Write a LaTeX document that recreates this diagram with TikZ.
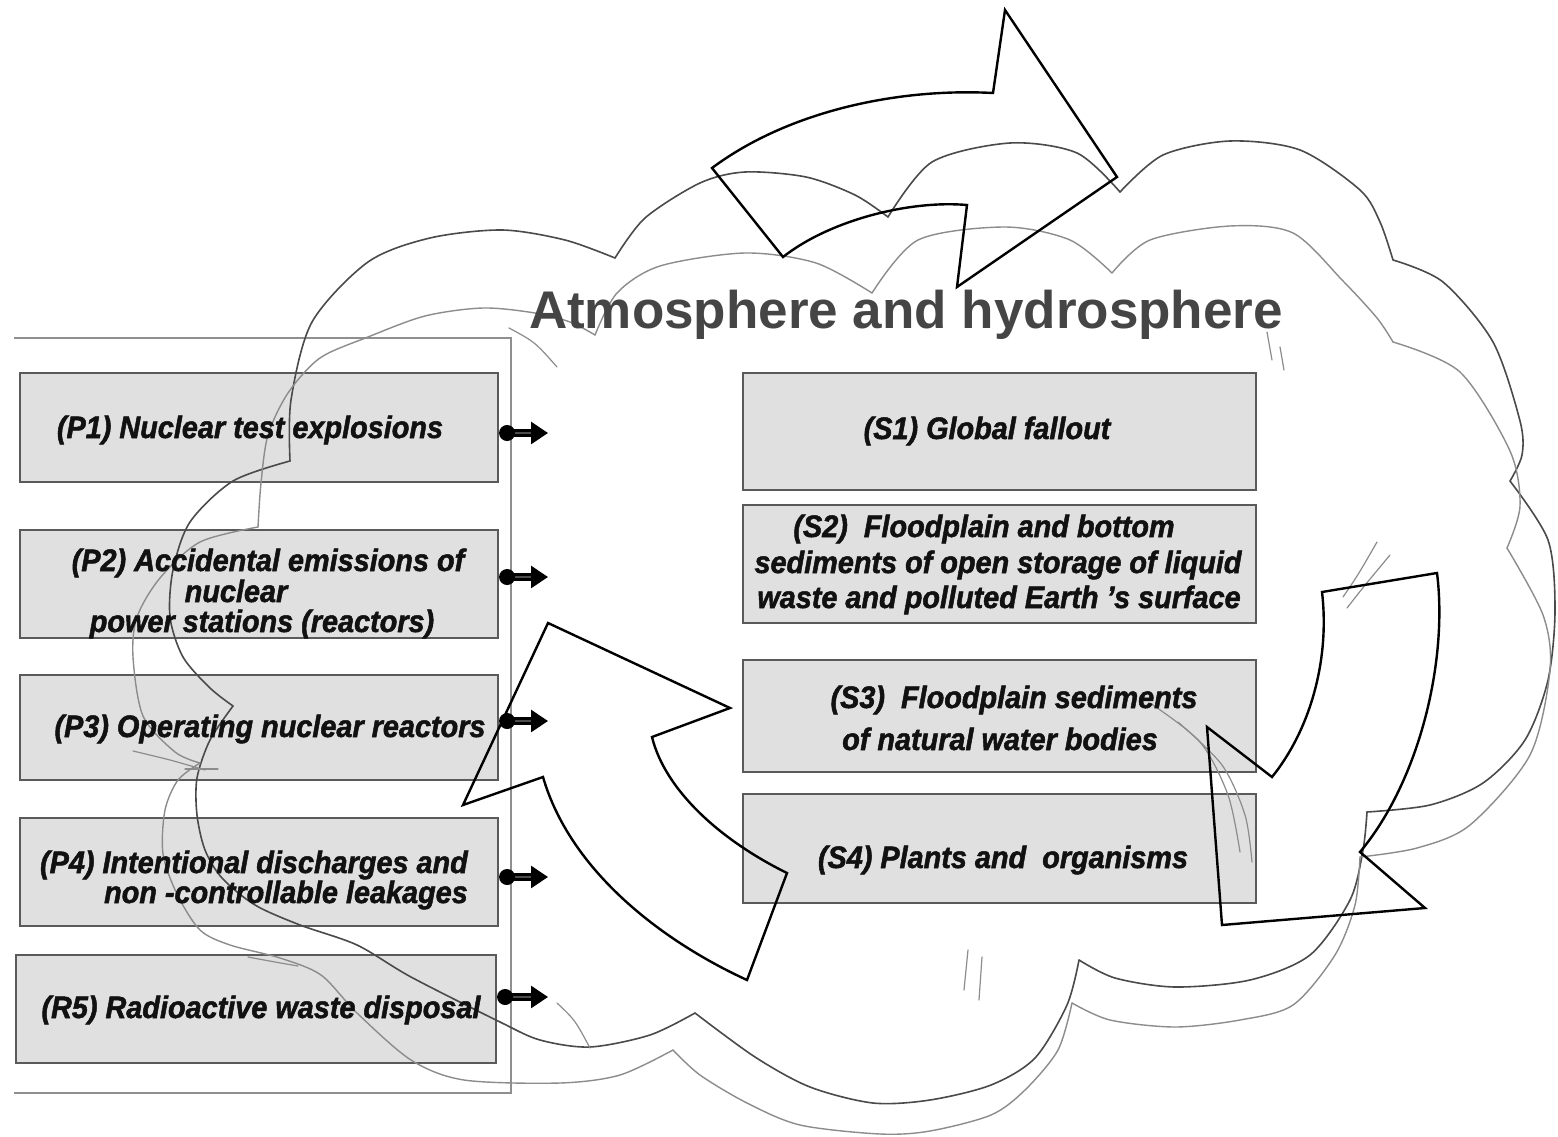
\documentclass[tikz,border=0pt]{standalone}
\usepackage{fontspec}
\setmainfont{Liberation Sans}
\newfontfamily\heavyfont{Liberation Sans}[BoldItalicFeatures={FakeBold=1.6,FakeStretch=0.93}]
\usetikzlibrary{arrows.meta}
\definecolor{boxfill}{HTML}{E0E0E0}
\definecolor{boxline}{HTML}{5A5A5A}
\definecolor{cloudd}{HTML}{4A4A4A}
\definecolor{cloudl}{HTML}{8C8C8C}
\definecolor{framec}{HTML}{8F8F8F}
\definecolor{titlec}{HTML}{454545}
\definecolor{txt}{HTML}{111111}
\begin{document}
\begin{tikzpicture}[x=1pt,y=-1pt,
  box/.style={draw=boxline, fill=boxfill, line width=2.2pt, inner sep=0pt},
  btxt/.style={font=\heavyfont\fontsize{31}{33}\selectfont\bfseries\itshape, text=txt, inner sep=0pt, anchor=base},
  btxtr/.style={btxt, anchor=base east},
  cloudD/.style={draw=cloudd, line width=1.6pt, line cap=round, line join=round},
  cloudL/.style={draw=cloudl, line width=1.4pt, line cap=round, line join=round},
  tickmark/.style={draw=cloudl, line width=1.2pt, line cap=round},
  bigarrow/.style={draw=black, line width=2.4pt, line join=miter},
  conn/.style={draw=black, line width=2.8pt, double=gray!60!black, double distance=2.8pt, arrows={Circle[length=16pt]-Triangle[length=17pt,width=22pt]}},
  frameline/.style={draw=framec, line width=1.8pt},
]
\useasboundingbox (0,0) rectangle (1558,1137);
\fill[white] (0,0) rectangle (1558,1137);

% frame round the sources
\draw[frameline] (14,338) -- (511,338) -- (511,1093) -- (14,1093);

% boxes
\node[box, minimum width=478pt, minimum height=109pt] (p1) at (259,427.5) {};
\node[box, minimum width=478pt, minimum height=108pt] (p2) at (259,584) {};
\node[box, minimum width=478pt, minimum height=105pt] (p3) at (259,727.5) {};
\node[box, minimum width=478pt, minimum height=108pt] (p4) at (259,872) {};
\node[box, minimum width=480pt, minimum height=108pt] (r5) at (256,1009) {};
\node[box, minimum width=513pt, minimum height=117pt] (s1) at (999.5,431.5) {};
\node[box, minimum width=513pt, minimum height=118pt] (s2) at (999.5,564) {};
\node[box, minimum width=513pt, minimum height=112pt] (s3) at (999.5,716) {};
\node[box, minimum width=513pt, minimum height=109pt] (s4) at (999.5,848.5) {};

% cloud, darker outline
\draw[cloudD] plot[smooth] coordinates {(290,461) (291,400) (312,322) (368,262) (430,238) (502,230) (565,240) (615,258)};
\draw[cloudD] plot[smooth] coordinates {(615,258) (645,218) (700,183) (745,172) (806,177) (855,195) (888,217)};
\draw[cloudD] plot[smooth] coordinates {(888,217) (932,162) (1010,143) (1077,153) (1120,192)};
\draw[cloudD] plot[smooth] coordinates {(1120,192) (1163,155) (1230,141) (1300,150) (1360,190) (1380,222) (1393,260)};
\draw[cloudD] plot[smooth] coordinates {(1393,260) (1443,282) (1493,342) (1520,421) (1522,455) (1510,481)};
\draw[cloudD] plot[smooth] coordinates {(1510,481) (1548,540) (1555,610) (1548,680) (1525,740) (1483,783) (1430,805) (1367,812)};
\draw[cloudD] plot[smooth] coordinates {(1367,812) (1363,850) (1350,900) (1310,955) (1250,980) (1175,987) (1115,978) (1079,960)};
\draw[cloudD] plot[smooth] coordinates {(1079,960) (1067,1005) (1035,1058) (991,1085) (930,1100) (873,1103) (810,1087) (755,1057) (695,1013)};
\draw[cloudD] plot[smooth] coordinates {(695,1013) (650,1035) (590,1047) (540,1040) (500,1022) (411,977) (357,945) (300,925) (255,905) (222,878) (205,850) (197,815) (197,778) (210,740) (233,706)};
\draw[cloudD] plot[smooth] coordinates {(233,706) (210,688) (183,657) (170,617) (173,570) (190,522) (233,481) (290,461)};

% cloud, lighter outline
\draw[cloudL] plot[smooth] coordinates {(258,527) (261,483) (268,435) (288,393) (320,358) (368,337) (425,316) (483,308) (535,313) (570,322) (595,335)};
\draw[cloudL] plot[smooth] coordinates {(595,335) (617,293) (660,266) (745,253) (816,263) (872,293)};
\draw[cloudL] plot[smooth] coordinates {(872,293) (918,240) (1005,227) (1070,240) (1112,273)};
\draw[cloudL] plot[smooth] coordinates {(1112,273) (1150,240) (1230,226) (1293,233) (1343,281) (1377,318) (1393,342)};
\draw[cloudL] plot[smooth] coordinates {(1393,342) (1460,372) (1510,451) (1520,506) (1507,548)};
\draw[cloudL] plot[smooth] coordinates {(1507,548) (1543,615) (1550,670) (1530,755) (1470,825) (1417,848) (1360,857)};
\draw[cloudL] plot[smooth] coordinates {(1360,857) (1355,905) (1335,955) (1293,1005) (1240,1020) (1175,1027) (1110,1020) (1072,1003)};
\draw[cloudL] plot[smooth] coordinates {(1072,1003) (1058,1050) (1025,1090) (991,1115) (930,1131) (880,1134) (800,1125) (747,1103) (700,1075) (673,1050)};
\draw[cloudL] plot[smooth] coordinates {(673,1050) (620,1075) (560,1083) (464,1080) (411,1060) (357,1013) (321,975) (280,958) (230,945) (200,930) (177,894) (163,854) (165,810) (178,780) (200,763)};
\draw[cloudL] plot[smooth] coordinates {(200,763) (175,752) (143,716) (133,657) (137,617) (160,578) (200,542) (258,527)};

% small stray strokes
\draw[tickmark] (509,328) .. controls (535,342) .. (557,367);
\draw[tickmark] (1267,332) -- (1272,360);
\draw[tickmark] (1280,347) -- (1284,370);
\draw[tickmark] (1343,597) .. controls (1358,575) .. (1377,542);
\draw[tickmark] (1347,608) .. controls (1365,585) .. (1390,555);
\draw[tickmark] plot[smooth] coordinates {(1150,703) (1200,742) (1228,795) (1240,852)};
\draw[tickmark] plot[smooth] coordinates {(1178,722) (1222,765) (1245,815) (1252,862)};
\draw[tickmark] plot[smooth] coordinates {(133,751) (170,760) (205,770)};
\draw[tickmark] (185,769) -- (218,769);
\draw[tickmark] plot[smooth] coordinates {(248,957) (275,962) (298,966)};
\draw[tickmark] (557,1003) .. controls (575,1020) .. (590,1048);
\draw[tickmark] (968,950) -- (964,990);
\draw[tickmark] (982,957) -- (979,1000);

% circular arrows
\draw[bigarrow] (712,168) .. controls (790,110) and (900,88) .. (993,93) -- (1005,10) -- (1117,177) -- (957,287) -- (967,205) .. controls (910,200) and (830,220) .. (783,257) -- cycle;
\draw[bigarrow] (548,623) -- (730,708) -- (652,737) .. controls (665,790) and (720,840) .. (787,873) -- (747,980) .. controls (660,940) and (570,870) .. (543,777) -- (463,805) -- cycle;
\draw[bigarrow] (1322,592) -- (1437,573) .. controls (1448,660) and (1420,780) .. (1360,852) -- (1425,908) -- (1222,925) -- (1207,727) -- (1272,777) .. controls (1310,730) and (1330,660) .. (1322,592) -- cycle;

% connectors
\coordinate (a1) at (548,433);
\coordinate (a2) at (548,577);
\coordinate (a3) at (548,721);
\coordinate (a4) at (548,877);
\coordinate (a5) at (548,997);
\draw[conn] (p1.east |- a1) -- (a1);
\draw[conn] (p2.east |- a2) -- (a2);
\draw[conn] (p3.east |- a3) -- (a3);
\draw[conn] (p4.east |- a4) -- (a4);
\draw[conn] (r5.east |- a5) -- (a5);

% title
\node[font=\fontsize{53}{60}\selectfont\bfseries, text=titlec, inner sep=0pt, anchor=base] (title) at (906,328) {Atmosphere and hydrosphere};

% texts
\node[btxt] (p1t) at (250,438) {(P1) Nuclear test explosions};
\node[btxt] (p2a) at (268,571) {(P2) Accidental emissions of};
\node[btxt] (p2b) at (236,602) {nuclear};
\node[btxt] (p2c) at (262,632) {power stations (reactors)};
\node[btxt] (p3t) at (270,737) {(P3) Operating nuclear reactors};
\node[btxtr] (p4a) at (468,873) {(P4) Intentional discharges and};
\node[btxtr] (p4b) at (468,903) {non -controllable leakages};
\node[btxt] (r5t) at (261,1018) {(R5) Radioactive waste disposal};
\node[btxt] (s1t) at (987,439) {(S1) Global fallout};
\node[btxt] (s2a) at (984,537) {(S2)~ Floodplain and bottom};
\node[btxt] (s2b) at (998,573) {sediments of open storage of liquid};
\node[btxt] (s2c) at (999,608) {waste and polluted Earth ’s surface};
\node[btxt] (s3a) at (1014,708) {(S3)~ Floodplain sediments};
\node[btxt] (s3b) at (1000,750) {of natural water bodies};
\node[btxt] (s4t) at (1003,868) {(S4) Plants and~ organisms};
\end{tikzpicture}
\end{document}
